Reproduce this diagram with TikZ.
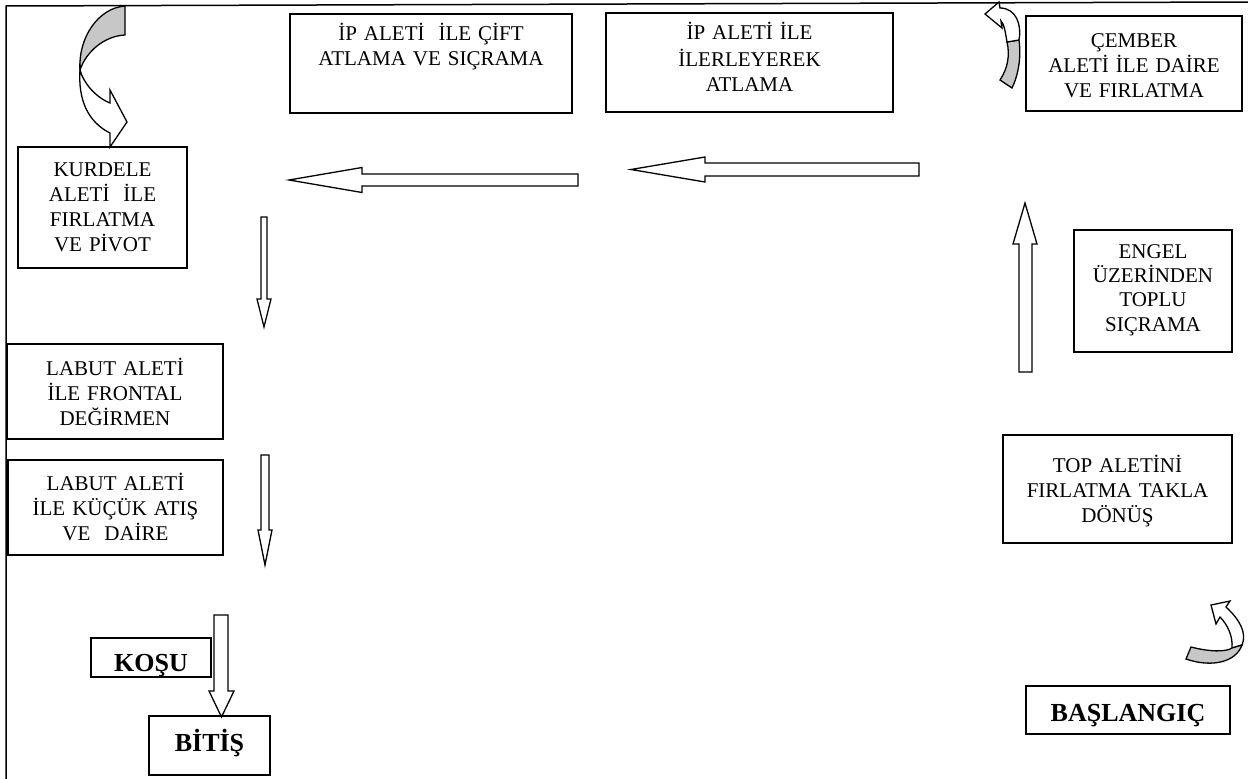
\documentclass[tikz,border=0pt]{standalone}
\usepackage{fontspec}
\setmainfont{Liberation Serif}
\begin{document}
\begin{tikzpicture}[x=1pt,y=-1pt,
  box/.style={draw,line width=1.5pt,inner sep=0pt},
  txt/.style={font=\fontsize{21}{25}\selectfont,align=center,anchor=base,inner sep=0pt},
  btxt/.style={font=\fontsize{26}{30}\selectfont\bfseries,anchor=base,inner sep=0pt},
  barrow/.style={draw,line width=1.3pt,fill=white,line join=miter},
  cgray/.style={draw,line width=1.3pt,fill=black!22},
  cwhite/.style={draw,line width=1.3pt,fill=white},
  frame/.style={line width=1.5pt}]
\useasboundingbox (0,0) rectangle (1248,779);
% frame lines
\coordinate (tl) at (6,6);
\coordinate (tr) at (1248,2);
\coordinate (bl) at (6,779);
\draw[frame] (bl) -- (tl) -- (tr);

% boxes
\node[box,minimum width=282,minimum height=99] (ip1) at (431,63.5) {};
\node[txt,text width=282] (ip1t) at (431,40) {\fontsize{21}{28}\selectfont İP ALETİ\ \ İLE ÇİFT\\ATLAMA VE SIÇRAMA};
\node[box,minimum width=287,minimum height=99] (ip2) at (749.5,62.5) {};
\node[txt,text width=287] (ip2t) at (749.5,39) {\fontsize{21}{27}\selectfont İP ALETİ İLE\\İLERLEYEREK\\ATLAMA};
\node[box,minimum width=216,minimum height=95] (cem) at (1134,63.5) {};
\node[txt,text width=216] (cemt) at (1134,47) {ÇEMBER\\ALETİ İLE DAİRE\\VE FIRLATMA};
\node[box,minimum width=169,minimum height=121] (kur) at (102.5,207.5) {};
\node[txt,text width=169] (kurt) at (102.5,176.7) {KURDELE\\ALETİ\ \ İLE\\FIRLATMA\\VE PİVOT};
\node[box,minimum width=158,minimum height=122] (eng) at (1153,291) {};
\node[txt,text width=158] (engt) at (1153,258) {\fontsize{21}{24}\selectfont ENGEL\\ÜZERİNDEN\\TOPLU\\SIÇRAMA};
\node[box,minimum width=216,minimum height=95] (lab1) at (115,391.5) {};
\node[txt,text width=216] (lab1t) at (115,375) {LABUT ALETİ\\İLE FRONTAL\\DEĞİRMEN};
\node[box,minimum width=215,minimum height=95] (lab2) at (115.5,507.5) {};
\node[txt,text width=215] (lab2t) at (115.5,490) {LABUT ALETİ\\İLE KÜÇÜK ATIŞ\\VE\ \ DAİRE};
\node[box,minimum width=229,minimum height=108] (top) at (1117.5,489) {};
\node[txt,text width=229] (topt) at (1117.5,472) {TOP ALETİNİ\\FIRLATMA TAKLA\\DÖNÜŞ};
\node[box,minimum width=120,minimum height=39] (kos) at (151,657.5) {};
\node[btxt] (kost) at (151,671) {KOŞU};
\node[box,minimum width=121,minimum height=59] (bit) at (209.5,745.5) {};
\node[btxt] (bitt) at (209.5,751) {BİTİŞ};
\node[box,minimum width=204,minimum height=48] (bas) at (1128,710) {};
\node[btxt] (bast) at (1128,721) {BAŞLANGIÇ};

% block arrows
\draw[barrow] (289,180) -- (362,167.5) -- (362,174) -- (578,174) -- (578,186) -- (362,186) -- (362,192.5) -- cycle;
\draw[barrow] (631,169.5) -- (705,157) -- (705,163) -- (919,163) -- (919,176) -- (705,176) -- (705,182) -- cycle;
\draw[barrow] (264,327) -- (257,299) -- (261,299) -- (261,217) -- (267,217) -- (267,299) -- (271,299) -- cycle;
\draw[barrow] (265,565) -- (258,530) -- (261,530) -- (261,455) -- (269,455) -- (269,530) -- (272,530) -- cycle;
\draw[barrow] (221.5,717) -- (209,691) -- (214,691) -- (214,615) -- (228,615) -- (228,691) -- (234,691) -- cycle;
\draw[barrow] (1025,203) -- (1013,244) -- (1019,244) -- (1019,372) -- (1032,372) -- (1032,244) -- (1037,244) -- cycle;

% curved arrow top left
\draw[cgray] (125,6) .. controls (98,8) and (78,38) .. (80,70) .. controls (86,52) and (104,36) .. (125,35) -- cycle;
\draw[cwhite] (80,70) .. controls (78,100) and (88,122) .. (110,133) -- (110,147) -- (127,122) -- (110,90) -- (110,103) .. controls (95,97) and (83,82) .. (80,70) -- cycle;

% curved arrow top right
\draw[cgray] (1019,40) .. controls (1022,62) and (1016,80) .. (1012,88) -- (1000,80) .. controls (1008,68) and (1010,55) .. (1007,42) -- cycle;
\draw[cwhite] (1000,8) .. controls (1016,8) and (1022,25) .. (1019,40) -- (1007,42) .. controls (1005,30) and (1004,24) .. (1001,21) -- (1002,28) -- (985,14) -- (999,2) -- cycle;

% curved arrow bottom right
\draw[cwhite] (1226,607) .. controls (1240,620) and (1247,633) .. (1242,645) -- (1232,648) .. controls (1233,637) and (1228,625) .. (1220,617) -- (1216,624) -- (1211,605) -- (1230,601) -- cycle;
\draw[cgray] (1242,645) .. controls (1236,662) and (1212,668) .. (1186,659) -- (1191,647) .. controls (1210,652) and (1226,652) .. (1232,648) -- cycle;
\end{tikzpicture}
\end{document}
